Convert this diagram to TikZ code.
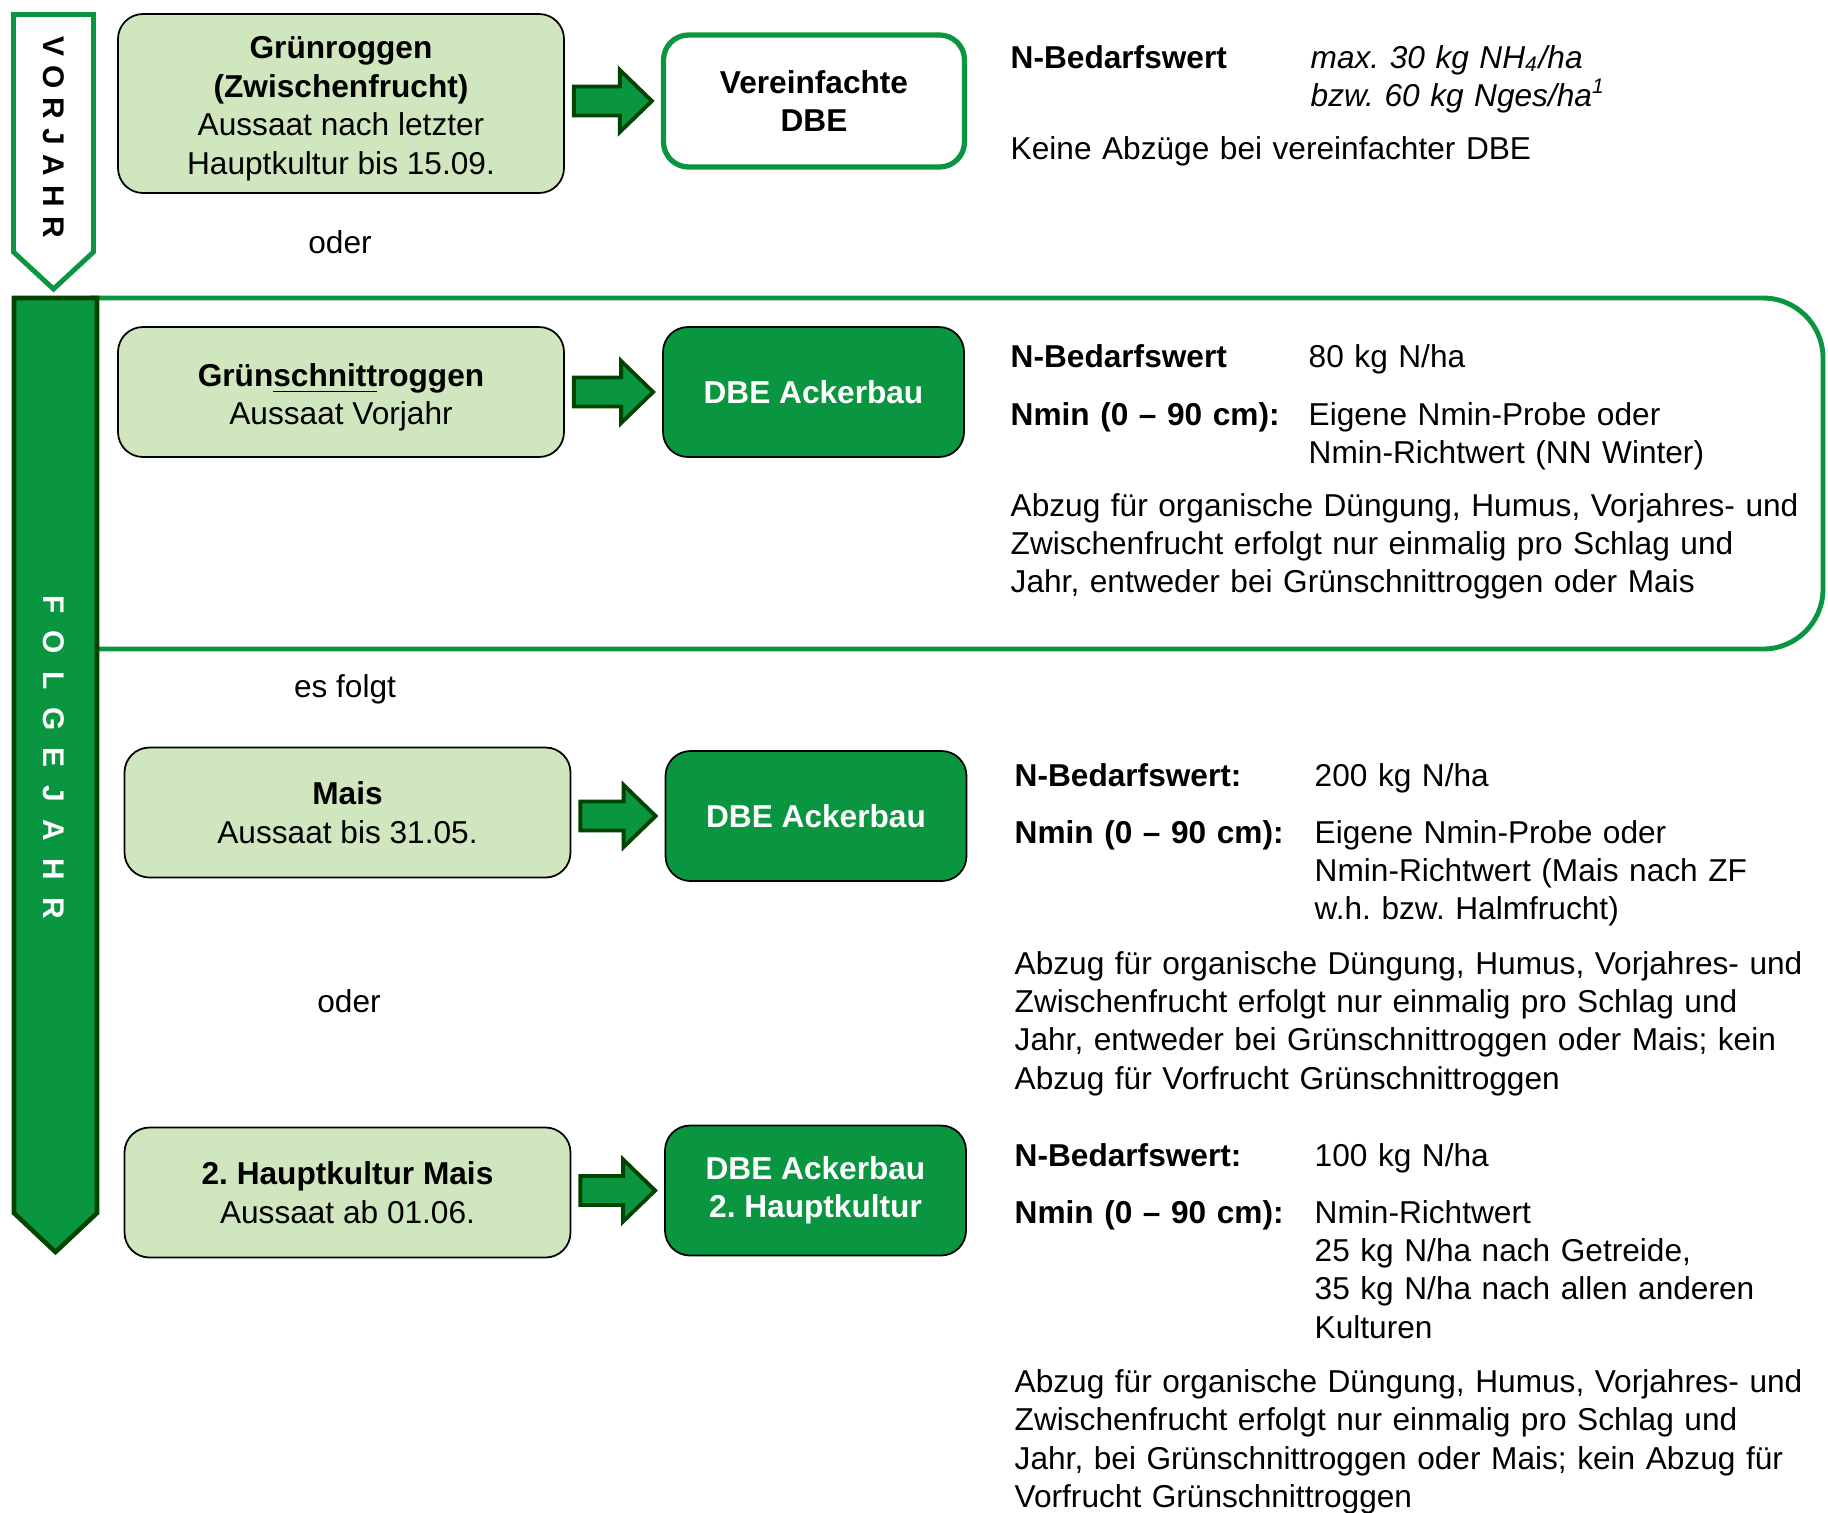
\documentclass[tikz,border=0pt]{standalone}
\usepackage{fontspec}
\setmainfont{Liberation Sans}
\usetikzlibrary{calc}
\frenchspacing

\definecolor{gruen}{RGB}{10,150,64}
\definecolor{dunkelgruen}{RGB}{0,68,0}
\definecolor{hellgruen}{RGB}{208,230,190}

\newcommand{\grund}{\fontsize{9}{10.95}\selectfont}
\newcommand{\pfeil}[2]{%
  \draw[blockpfeil] let \p1=($(#1.east)+(0.09,0)$), \p2=($(#2.west)+(-0.09,0)$) in
    (\x1,\y2+0.145cm) -- (\x2-0.32cm,\y2+0.145cm) -- (\x2-0.32cm,\y2+0.31cm) -- (\x2,\y2)
    -- (\x2-0.32cm,\y2-0.31cm) -- (\x2-0.32cm,\y2-0.145cm) -- (\x1,\y2-0.145cm) -- cycle;}

\tikzset{
  kultur/.style={rectangle,rounded corners=0.25cm,draw=black,line width=0.5pt,fill=hellgruen,
    minimum width=4.46cm,minimum height=1.30cm,inner sep=0pt,align=center},
  dbe/.style={rectangle,rounded corners=0.25cm,draw=black,line width=0.5pt,fill=gruen,text=white,
    font=\grund\bfseries,minimum width=3.01cm,minimum height=1.30cm,inner sep=0pt,align=center},
  info/.style={anchor=base west,inner sep=0pt,text width=8.4cm,align=left},
  blockpfeil/.style={fill=gruen,draw=dunkelgruen,line width=1.1pt},
  jahr/.style={rotate=-90,inner sep=0pt,font=\fontsize{8.5}{8.5}\selectfont\bfseries},
  band/.style={draw=gruen,line width=1.4pt,rounded corners=0.6cm}
}

\begin{document}
\begin{tikzpicture}[font=\grund]
\useasboundingbox (0,0) rectangle (18.28,-15.12);

\draw[band] (0.9,-2.98) -- (18.23,-2.98) -- (18.23,-6.49) -- (0.9,-6.49);

\draw[draw=gruen,fill=white,line width=1.4pt] (0.135,-0.145) -- (0.935,-0.145) -- (0.935,-2.52) -- (0.535,-2.89) -- (0.135,-2.52) -- cycle;
\draw[draw=dunkelgruen,fill=gruen,line width=1.3pt] (0.14,-2.98) -- (0.97,-2.98) -- (0.97,-12.13) -- (0.555,-12.52) -- (0.14,-12.13) -- cycle;

\node[jahr] (vj) at (0.535,-1.37) {\spaceskip=2.65pt V O R J A H R};
\node[jahr,text=white] (fj) at (0.54,-7.57) {\spaceskip=4.95pt F O L G E J A H R};

\node[kultur,minimum height=1.79cm] (gr) at (3.41,-1.035) {\rule{0pt}{9.3pt}\textbf{Grünroggen}\\\textbf{(Zwischenfrucht)}\\Aussaat nach letzter\\Hauptkultur bis 15.09.};
\node[dbe,fill=white,text=black,draw=gruen,line width=1.5pt,minimum height=1.32cm] (vdbe) at (8.14,-1.01) {Vereinfachte\\DBE};
\node (oder1) at (3.40,-2.42) {oder};

\node[kultur] (gsr) at (3.41,-3.92) {\rule{0pt}{9.6pt}\textbf{Grün\underline{schnitt}roggen}\\Aussaat Vorjahr};
\node[dbe] (dbe1) at (8.135,-3.92) {DBE Ackerbau};
\node (folgt) at (3.45,-6.89) {es folgt};

\node[kultur] (mais) at (3.475,-8.125) {\textbf{Mais}\\Aussaat bis 31.05.};
\node[dbe] (dbe2) at (8.16,-8.16) {DBE Ackerbau};
\node (oder2) at (3.49,-10.01) {oder};

\node[kultur] (mais2) at (3.475,-11.925) {\textbf{2. Hauptkultur Mais}\\Aussaat ab 01.06.};
\node[dbe] (dbe3) at (8.155,-11.905) {DBE Ackerbau\\2. Hauptkultur};

\pfeil{gr}{vdbe}
\pfeil{gsr}{dbe1}
\pfeil{mais}{dbe2}
\pfeil{mais2}{dbe3}

\node[info] (bw1) at (10.10,-0.68) {\textbf{N-Bedarfswert}};
\node[info,font=\grund\itshape] (bv1) at (13.10,-0.68) {max. 30 kg NH\textsubscript{4}/ha\\bzw. 60 kg Nges/ha\textsuperscript{1}};
\node[info] (kab) at (10.10,-1.59) {Keine Abzüge bei vereinfachter DBE};

\node[info] (bw2) at (10.10,-3.67) {\textbf{N-Bedarfswert}};
\node[info] (bv2) at (13.08,-3.67) {80 kg N/ha};
\node[info] (nm2) at (10.10,-4.25) {\textbf{Nmin (0 -- 90 cm):}};
\node[info] (nv2) at (13.08,-4.25) {Eigene Nmin-Probe oder\\Nmin-Richtwert (NN Winter)};
\node[info] (ab2) at (10.10,-5.16) {Abzug für organische Düngung, Humus, Vorjahres- und\\Zwischenfrucht erfolgt nur einmalig pro Schlag und\\Jahr, entweder bei Grünschnittroggen oder Mais};

\node[info] (bw3) at (10.14,-7.86) {\textbf{N-Bedarfswert:}};
\node[info] (bv3) at (13.14,-7.86) {200 kg N/ha};
\node[info] (nm3) at (10.14,-8.43) {\textbf{Nmin (0 -- 90 cm):}};
\node[info] (nv3) at (13.14,-8.43) {Eigene Nmin-Probe oder\\Nmin-Richtwert (Mais nach ZF\\w.h. bzw. Halmfrucht)};
\node[info] (ab3) at (10.14,-9.74) {Abzug für organische Düngung, Humus, Vorjahres- und\\Zwischenfrucht erfolgt nur einmalig pro Schlag und\\Jahr, entweder bei Grünschnittroggen oder Mais; kein\\Abzug für Vorfrucht Grünschnittroggen};

\node[info] (bw4) at (10.14,-11.66) {\textbf{N-Bedarfswert:}};
\node[info] (bv4) at (13.14,-11.66) {100 kg N/ha};
\node[info] (nm4) at (10.14,-12.23) {\textbf{Nmin (0 -- 90 cm):}};
\node[info] (nv4) at (13.14,-12.23) {Nmin-Richtwert\\25 kg N/ha nach Getreide,\\35 kg N/ha nach allen anderen\\Kulturen};
\node[info] (ab4) at (10.14,-13.92) {Abzug für organische Düngung, Humus, Vorjahres- und\\Zwischenfrucht erfolgt nur einmalig pro Schlag und\\Jahr, bei Grünschnittroggen oder Mais; kein Abzug für\\Vorfrucht Grünschnittroggen};
\end{tikzpicture}
\end{document}
